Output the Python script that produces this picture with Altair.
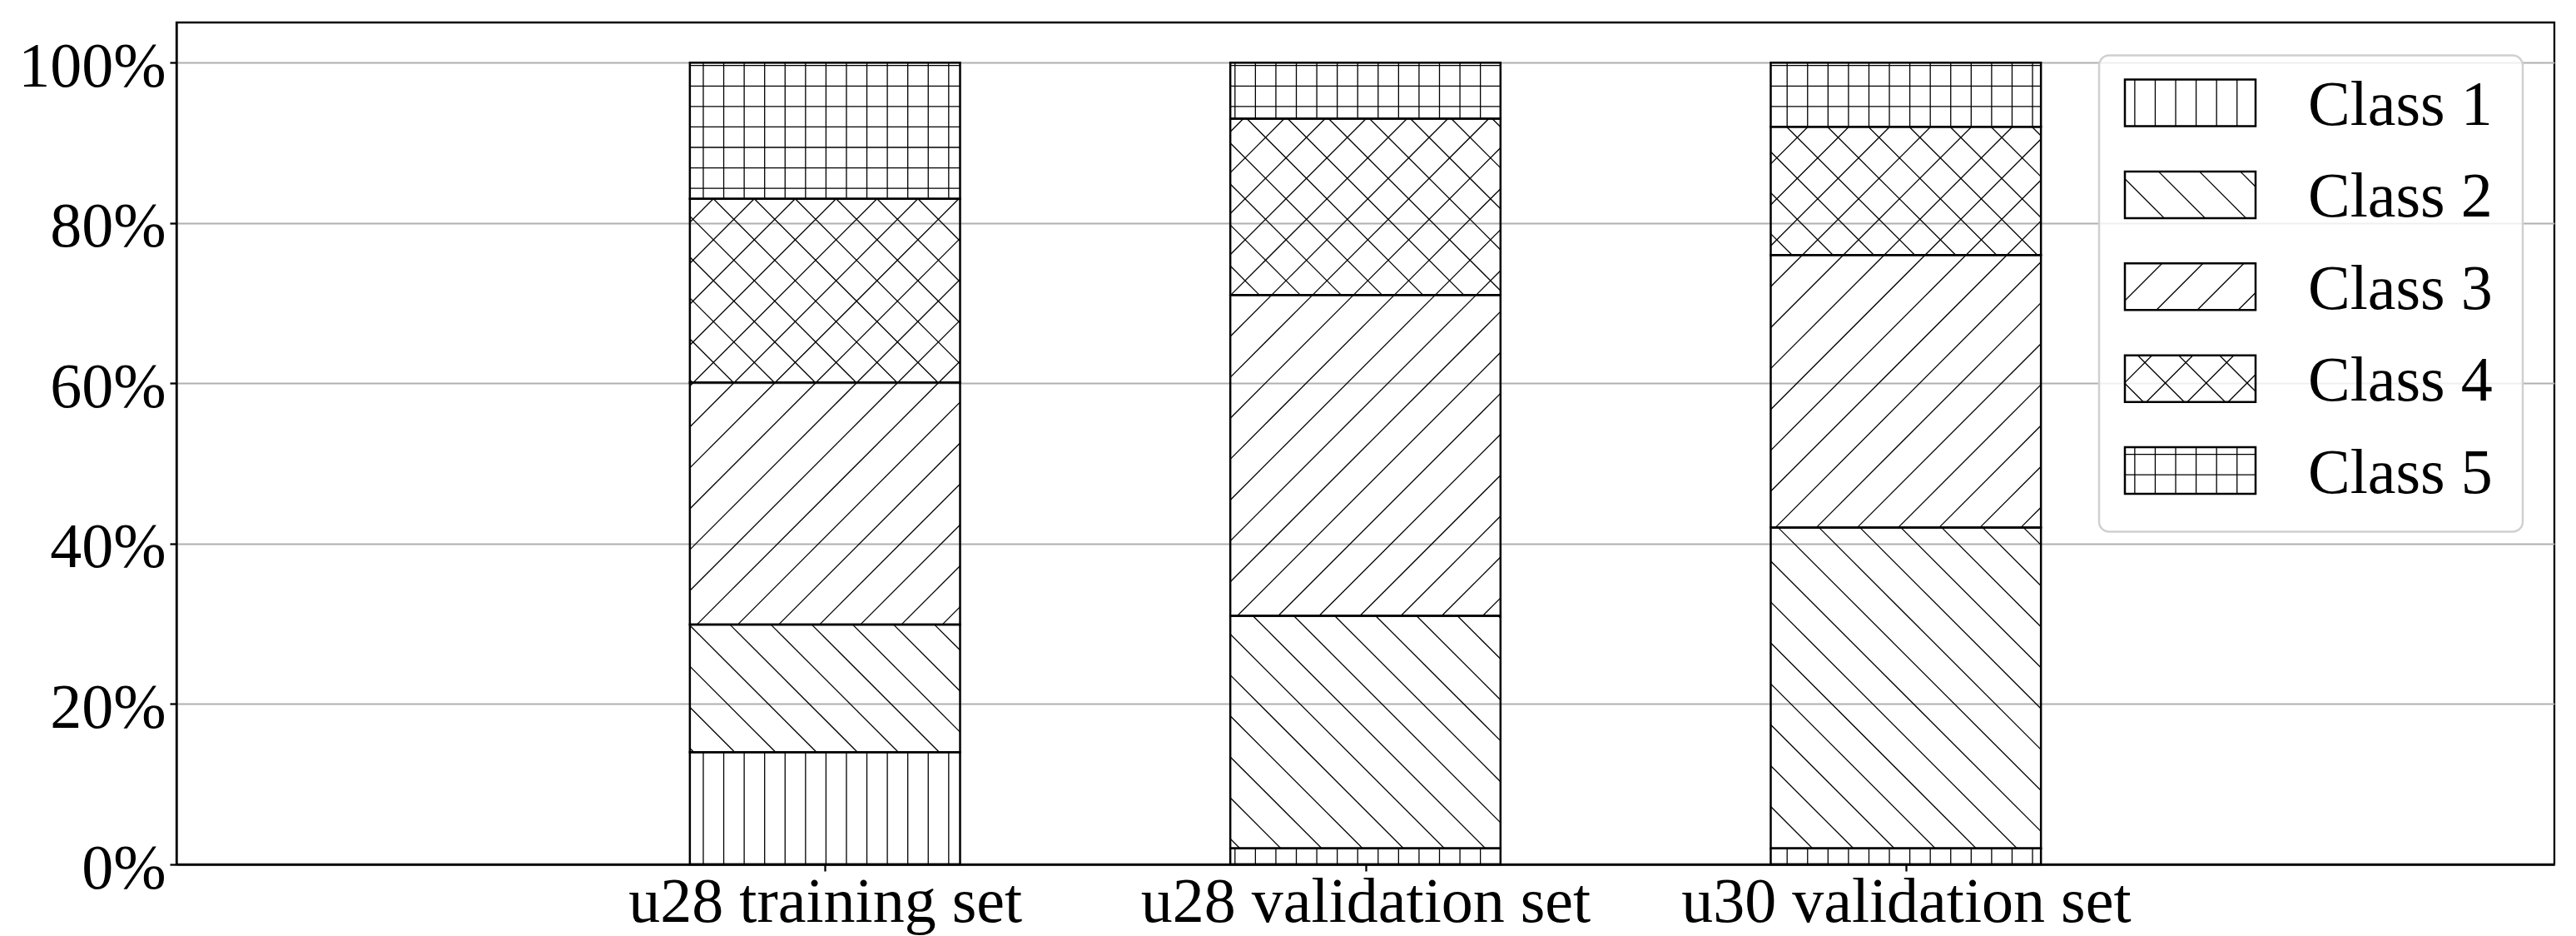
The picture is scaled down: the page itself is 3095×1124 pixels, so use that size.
import json
import math
import altair as alt
import pandas as pd

# ---------------- data ----------------
categories = ["u28 training set", "u28 validation set", "u30 validation set"]
classes = ["Class 1", "Class 2", "Class 3", "Class 4", "Class 5"]
class1 = [14.0, 2.0, 2.0]
class2 = [15.9, 29.0, 40.0]
class3 = [30.2, 40.0, 34.0]
class4 = [22.9, 22.0, 16.0]
class5 = [17.0, 7.0, 8.0]
hatches = ["|", "\\", "/", "x", "+"]
y_ticks = [0, 20, 40, 60, 80, 100]

# ---------------- layout / style ----------------
PLOT_LEFT, PLOT_TOP = 212, 27          # page pixels of the plot area
W, H = 2857, 1011
X_DOMAIN = [-1.2, 3.2]
Y_DOMAIN = [0, 105]
BAR_HALF = 0.25
FONT = "Liberation Serif"
FS = 76
P_ORTHO, P_DIAG = 24.57, 49.14           # hatch spacing (px)
OFF_V, OFF_H, OFF_NE, OFF_SE = 9.6, 5.0, 14.8, 28.7
HATCH_W = 1.3
EDGE_W = 2.5
# legend box (page px)
LEG_BOX = (2522, 3031, 66.5, 638.5)
LEG_SW_X = (2553, 2710)
LEG_SW_TOP0, LEG_SW_H, LEG_STEP = 95.5, 56.0, 110.4
LEG_TXT_X, LEG_TXT_BASE0 = 2773, 150.0


def px_to_x(px):
    return X_DOMAIN[0] + (px - PLOT_LEFT) / W * (X_DOMAIN[1] - X_DOMAIN[0])


def py_to_y(py):
    return Y_DOMAIN[0] + (PLOT_TOP + H - py) / H * (Y_DOMAIN[1] - Y_DOMAIN[0])


def x_to_px(x):
    return PLOT_LEFT + (x - X_DOMAIN[0]) / (X_DOMAIN[1] - X_DOMAIN[0]) * W


def y_to_py(y):
    return PLOT_TOP + H - (y - Y_DOMAIN[0]) / (Y_DOMAIN[1] - Y_DOMAIN[0]) * H


def krange(lo, hi, off, p):
    k0 = math.ceil((lo - off) / p)
    k1 = math.floor((hi - off) / p)
    return [off + k * p for k in range(k0, k1 + 1)]


def hatch_segments(px0, px1, py0, py1, pat):
    """pixel rect (py0 top, py1 bottom) -> list of segments in data coords"""
    segs = []
    eps = 1.0
    if pat in ("|", "+"):
        for x in krange(px0 + eps, px1 - eps, OFF_V, P_ORTHO):
            segs.append((x, py0, x, py1))
    if pat == "+":
        for y in krange(py0 + eps, py1 - eps, OFF_H, P_ORTHO):
            segs.append((px0, y, px1, y))
    if pat in ("/", "x"):
        for c in krange(px0 + py0, px1 + py1, OFF_NE, P_DIAG):
            xa, xb = max(px0, c - py1), min(px1, c - py0)
            if xb - xa > 0.5:
                segs.append((xa, c - xa, xb, c - xb))
    if pat in ("\\", "x"):
        for c in krange(px0 - py1, px1 - py0, OFF_SE, P_DIAG):
            xa, xb = max(px0, c + py0), min(px1, c + py1)
            if xb - xa > 0.5:
                segs.append((xa, xa - c, xb, xb - c))
    return [dict(x=px_to_x(a), y=py_to_y(b), x2=px_to_x(c), y2=py_to_y(d))
            for a, b, c, d in segs]


# ---------------- tables ----------------
series = [class1, class2, class3, class4, class5]
bar_rows, hatch_rows = [], []
for i, cat in enumerate(categories):
    base = 0.0
    for j, cls in enumerate(classes):
        v = series[j][i]
        x0, x1 = i - BAR_HALF, i + BAR_HALF
        bar_rows.append(dict(cat=cat, cls=cls, x0=x0, x1=x1, y0=base, y1=base + v))
        hatch_rows += hatch_segments(x_to_px(x0), x_to_px(x1),
                                     y_to_py(base + v), y_to_py(base), hatches[j])
        base += v
bars = pd.DataFrame(bar_rows)

leg_rows = []
for j, cls in enumerate(classes):
    top = LEG_SW_TOP0 + j * LEG_STEP
    bot = top + LEG_SW_H
    leg_rows.append(dict(cls=cls, x0=px_to_x(LEG_SW_X[0]), x1=px_to_x(LEG_SW_X[1]),
                         y0=py_to_y(bot), y1=py_to_y(top),
                         tx=px_to_x(LEG_TXT_X), ty=py_to_y(LEG_TXT_BASE0 + j * LEG_STEP)))
    hatch_rows += hatch_segments(LEG_SW_X[0], LEG_SW_X[1], top, bot, hatches[j])
legend = pd.DataFrame(leg_rows)
hatch_df = pd.DataFrame(hatch_rows)
frame = pd.DataFrame([dict(x0=px_to_x(LEG_BOX[0]), x1=px_to_x(LEG_BOX[1]),
                           y0=py_to_y(LEG_BOX[3]), y1=py_to_y(LEG_BOX[2]))])

xs = alt.Scale(domain=X_DOMAIN, nice=False, zero=False)
ys = alt.Scale(domain=Y_DOMAIN, nice=False, zero=False)

x_axis = alt.Axis(values=[0, 1, 2], labelExpr=json.dumps(categories) + "[datum.value]",
                  grid=False, title=None, labelFont=FONT, labelFontSize=FS,
                  labelColor="black", tickSize=8, tickWidth=2.3, tickColor="black",
                  domainColor="black", domainWidth=2.3, labelPadding=0,
                  labelFlush=False, labelOverlap=False, labelLimit=2000)
y_axis = alt.Axis(values=y_ticks, labelExpr="datum.value + '%'", grid=True,
                  gridColor="#b0b0b0", gridWidth=2, title=None, labelFont=FONT,
                  labelFontSize=FS, labelColor="black", tickSize=8, tickWidth=2.3,
                  tickColor="black", domainColor="black", domainWidth=2.3,
                  labelPadding=5, labelOffset=5, labelFlush=False, labelOverlap=False,
                  labelLimit=2000)


def X(field):
    return alt.X(field, scale=xs, axis=x_axis, title=None)


def Y(field):
    return alt.Y(field, scale=ys, axis=y_axis, title=None)


hatch_layer = alt.Chart(hatch_df).mark_rule(color="black", strokeWidth=HATCH_W).encode(
    x=X("x:Q"), y=Y("y:Q"), x2="x2:Q", y2="y2:Q")

bar_layer = alt.Chart(bars).mark_rect(fill="white", fillOpacity=0, stroke="black",
                                       strokeWidth=EDGE_W).encode(
    x=X("x0:Q"), x2="x1:Q", y=Y("y0:Q"), y2="y1:Q")

frame_layer = alt.Chart(frame).mark_rect(fill="white", fillOpacity=0.8, stroke="#d0d0d0",
                                          strokeWidth=2.5, cornerRadius=12).encode(
    x=X("x0:Q"), x2="x1:Q", y=Y("y0:Q"), y2="y1:Q")

swatch_layer = alt.Chart(legend).mark_rect(fill="white", fillOpacity=0, stroke="black",
                                            strokeWidth=EDGE_W).encode(
    x=X("x0:Q"), x2="x1:Q", y=Y("y0:Q"), y2="y1:Q")

text_layer = alt.Chart(legend).mark_text(font=FONT, fontSize=FS, align="left",
                                          baseline="alphabetic", color="black").encode(
    x=X("tx:Q"), y=Y("ty:Q"), text="cls:N")

chart = alt.layer(bar_layer, frame_layer, hatch_layer, swatch_layer, text_layer).properties(
    width=W, height=H,
    autosize=alt.AutoSizeParams(type="none"),
    padding={"left": PLOT_LEFT - 8, "top": PLOT_TOP - 8, "right": 2, "bottom": 86},
    background="white",
).configure_view(stroke="black", strokeWidth=2.3)

chart.save("out.html", embed_options={"renderer": "svg", "actions": False})
